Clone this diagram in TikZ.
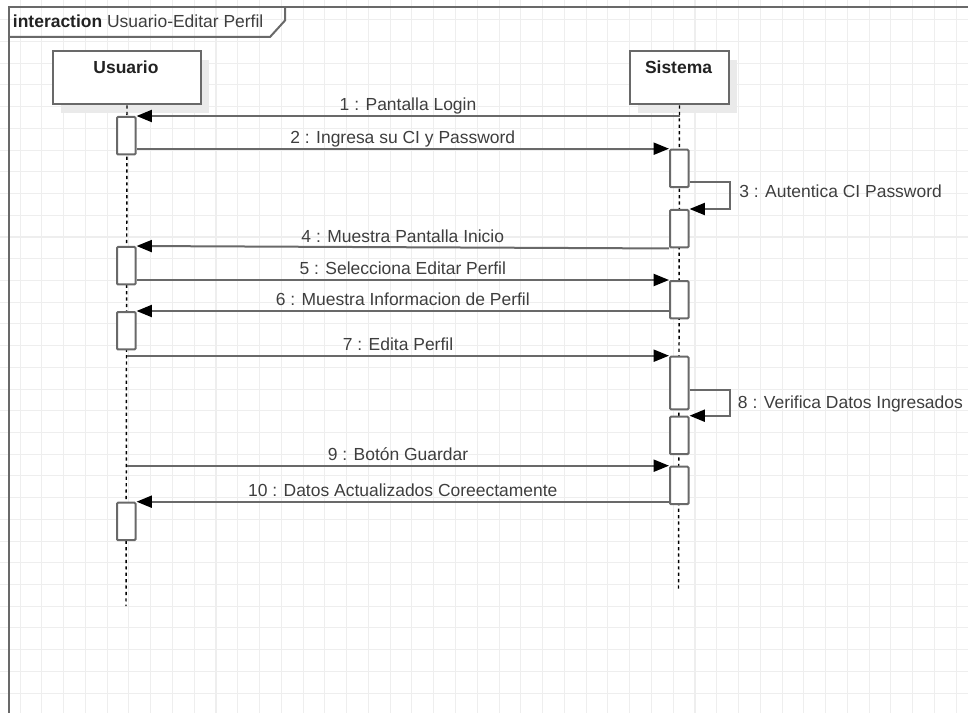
\documentclass[tikz,border=0pt]{standalone}
\usepackage{fontspec}
\setmainfont{Liberation Sans}
\usetikzlibrary{arrows.meta,shadows,calc}
\definecolor{gridc}{RGB}{238,238,238}
\definecolor{linec}{RGB}{105,105,105}
\definecolor{textc}{RGB}{62,62,62}
\definecolor{headc}{RGB}{34,34,34}
\definecolor{shadowc}{RGB}{234,234,234}

\begin{document}
\begin{tikzpicture}[x=0.75pt,y=-0.75pt,
  gridline/.style={draw=gridc,line width=0.8pt},
  framestyle/.style={draw=linec,line width=1.5pt},
  lifebox/.style={draw=linec,line width=1.5pt,fill=white,rectangle,
    minimum height=39.75pt,inner sep=0pt,anchor=north west,
    drop shadow={shadow xshift=6pt,shadow yshift=-6.75pt,fill=shadowc,opacity=1}},
  headtext/.style={font=\fontsize{13.1pt}{15pt}\selectfont\bfseries,text=headc,anchor=base,inner sep=0pt},
  lifeline/.style={draw=black,line width=1.1pt,dash pattern=on 2.4pt off 2.4pt},
  act/.style={draw=linec,line width=1.5pt,fill=white,rectangle,rounded corners=0.8pt,
    minimum width=13.9pt,minimum height=28.1pt,inner sep=0pt,anchor=north west},
  msg/.style={draw=linec,line width=1.5pt,
    -{Triangle[length=11.5pt,width=9pt,color=black,fill=black]}},
  lbl/.style={font=\fontsize{13.1pt}{15pt}\selectfont,text=textc,inner sep=0pt},
  midlbl/.style={lbl,midway,anchor=base,yshift=3.9pt},
]
\useasboundingbox (0,0) rectangle (968,713);
\clip (0,0) rectangle (968,713);

% background grid
\foreach \i in {-1,...,45} \draw[gridline] ({20.1+21.77*\i},0) -- ++(0,713);
\foreach \j in {-1,...,33} \draw[gridline] (0,{19.8+21.72*\j}) -- ++(968,0);

% interaction frame and its name tab
\draw[framestyle] (8.5,730) -- (8.5,7) -- (990,7);
\draw[framestyle] (8.5,37) -- (270,37) -- (285,20.5) -- (285,7);
\node[lbl,text=headc,anchor=base west] (title) at (12.7,28)
  {\textbf{interaction} {\color{textc}Usuario-Editar Perfil}};

% lifeline heads
\node[lifebox,minimum width=111pt] (U) at (52,50.5) {};
\node[lifebox,minimum width=73.8pt] (S) at (629.3,50.5) {};
\node[headtext] (Ulab) at (126,74) {Usuario};
\node[headtext] (Slab) at (678.5,74) {Sistema};

% lifelines
\coordinate (Uend) at (126,606);
\coordinate (Send) at (678.5,590);
\draw[lifeline] (U.south) -- (Uend);
\draw[lifeline] (S.south) -- (Send);

% activation bars
\node[act] (U1) at (116,116) {};
\node[act] (U2) at (116,246) {};
\node[act] (U3) at (116,311) {};
\node[act] (U4) at (116,501.7) {};
\node[act] (S1) at (669,148.7) {};
\node[act] (S2) at (669,209) {};
\node[act] (S3) at (669,280) {};
\node[act,minimum height=39.5pt] (S4) at (669,355.7) {};
\node[act] (S5) at (669,415.7) {};
\node[act] (S6) at (669,465.7) {};

% messages
\draw[msg] (S.south |- U1.north east) -- (U1.north east)
  node[midlbl] (l1) {1 : Pantalla Login};
\draw[msg] (U1.east |- S1.north west) -- (S1.north west)
  node[midlbl] (l2) {2 : Ingresa su CI y Password};
\draw[msg] ($(S1.south east)+(0,-5.7)$) -- ++(40.7,0) |- (S2.north east);
\node[lbl,anchor=base west] (l3) at (739,197.5) {3 : Autentica CI Password};
\draw[msg] (S2.south west) -- (U2.north east)
  node[midlbl] (l4) {4 : Muestra Pantalla Inicio};
\draw[msg] (U2.east |- S3.north west) -- (S3.north west)
  node[midlbl] (l5) {5 : Selecciona Editar Perfil};
\draw[msg] (S3.west |- U3.north east) -- (U3.north east)
  node[midlbl] (l6) {6 : Muestra Informacion de Perfil};
\draw[msg] (U.south |- S4.north west) -- (S4.north west)
  node[midlbl] (l7) {7 : Edita Perfil};
\draw[msg] ($(S4.south east)+(0,-20)$) -- ++(40.7,0) |- (S5.north east);
\node[lbl,anchor=base west] (l8) at (737.7,408.5) {8 : Verifica Datos Ingresados};
\draw[msg] (U.south |- S6.north west) -- (S6.north west)
  node[midlbl] (l9) {9 : Botón Guardar};
\draw[msg] (S6.west |- U4.north east) -- (U4.north east)
  node[midlbl] (l10) {10 : Datos Actualizados Coreectamente};
\end{tikzpicture}
\end{document}
